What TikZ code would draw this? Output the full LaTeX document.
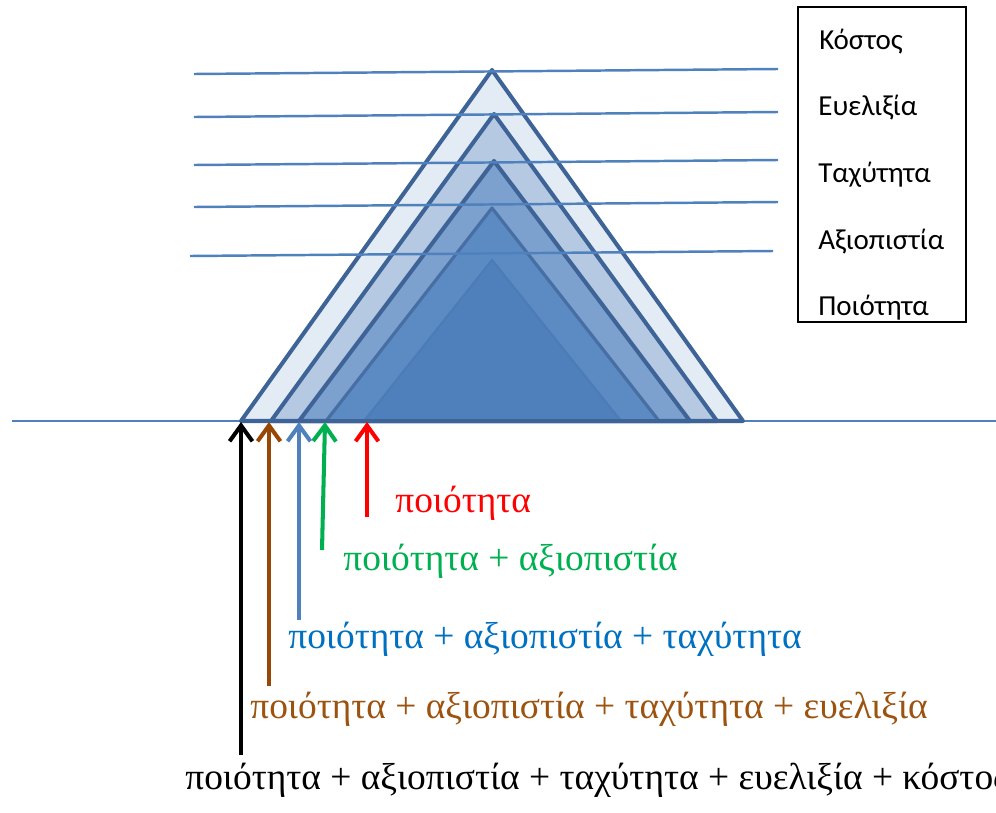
\documentclass[tikz,border=0pt]{standalone}
\usepackage{fontspec}
\setmainfont{Liberation Serif}
\newfontfamily\boxfont{Carlito}
\usetikzlibrary{arrows.meta}

\definecolor{edgeblue}{HTML}{3E6497}
\definecolor{lineblue}{HTML}{4F81BD}
\definecolor{fillA}{HTML}{E3EBF5}
\definecolor{fillB}{HTML}{B5C9E3}
\definecolor{fillC}{HTML}{7CA1CE}
\definecolor{fillD}{HTML}{5C8AC3}
\definecolor{fillE}{HTML}{4F80BC}
\definecolor{arrowbrown}{HTML}{984806}
\definecolor{textbrown}{HTML}{9C5310}
\definecolor{textblue}{HTML}{0070C0}
\definecolor{arrowgreen}{HTML}{00B050}

\tikzset{
  level/.style={line width=1.4pt,lineblue},
  tri/.style={line width=2.3pt,edgeblue,line join=round},
  pointer/.style={line width=2.3pt,-{Straight Barb[length=9pt,width=13pt,line width=2.3pt]}},
  sumlabel/.style={anchor=base west,font=\fontsize{21.3}{24}\selectfont,inner sep=0pt},
  boxlabel/.style={anchor=base west,font=\boxfont\fontsize{16.5}{18}\selectfont,inner sep=0pt}
}

\begin{document}
\begin{tikzpicture}[x=0.2mm,y=-0.2mm]
\useasboundingbox (0,0) rectangle (996,812);

% Ground line
\draw[lineblue,line width=1pt] (12,421) -- (996,421);

% Nested triangles
\filldraw[tri,fill=fillA] (241,421) -- (492,70) -- (743,421) -- cycle;
\filldraw[tri,fill=fillB] (271,421) -- (494,114) -- (717,421) -- cycle;
\filldraw[tri,fill=fillC] (299,421) -- (494,161) -- (690,421) -- cycle;
\filldraw[tri,fill=fillD,draw=edgeblue!70!fillD,line width=1.8pt] (326,421) -- (492,208) -- (659,421) -- cycle;
\filldraw[fill=fillE,draw=fillE!85!edgeblue,line width=1.2pt] (364,421) -- (492,260) -- (621,421) -- cycle;
\draw[tri] (241,421) -- (743,421);

% Levels
\draw[level] (194,74) -- (778,69);
\draw[level] (194,117) -- (778,112);
\draw[level] (194,165) -- (778,160);
\draw[level] (194,207) -- (778,202);
\draw[level] (190,256) -- (773,251);

% Legend box
\draw[black,line width=0.8pt] (798,7) rectangle (966,322);
\node[boxlabel] (cost) at (819,49) {Κόστος};
\node[boxlabel] (flex) at (818,115) {Ευελιξία};
\node[boxlabel] (speed) at (818,182) {Ταχύτητα};
\node[boxlabel] (rel) at (818,249) {Αξιοπιστία};
\node[boxlabel] (qual) at (818,315) {Ποιότητα};

% Arrow ends
\coordinate (tipK) at (241,422);
\coordinate (tipB) at (269,422);
\coordinate (tipL) at (299,422);
\coordinate (tipG) at (325,422);
\coordinate (tipR) at (367,422);
\coordinate (endK) at (241,755);
\coordinate (endB) at (269,686);
\coordinate (endL) at (299,620);
\coordinate (endG) at (322,550);
\coordinate (endR) at (367,517);

% Arrows
\draw[pointer,black] (endK) -- (tipK);
\draw[pointer,arrowbrown] (endB) -- (tipB);
\draw[pointer,lineblue] (endL) -- (tipL);
\draw[pointer,arrowgreen] (endG) -- (tipG);
\draw[pointer,red] (endR) -- (tipR);

% Sums
\node[sumlabel,red] (sumR) at (395,512) {ποιότητα};
\node[sumlabel,arrowgreen] (sumG) at (343,570) {ποιότητα + αξιοπιστία};
\node[sumlabel,textblue] (sumL) at (288,648) {ποιότητα + αξιοπιστία + ταχύτητα};
\node[sumlabel,textbrown] (sumB) at (250,718) {ποιότητα + αξιοπιστία + ταχύτητα + ευελιξία};
\node[sumlabel,black] (sumK) at (185,789) {ποιότητα + αξιοπιστία + ταχύτητα + ευελιξία + κόστος};

\end{tikzpicture}
\end{document}
